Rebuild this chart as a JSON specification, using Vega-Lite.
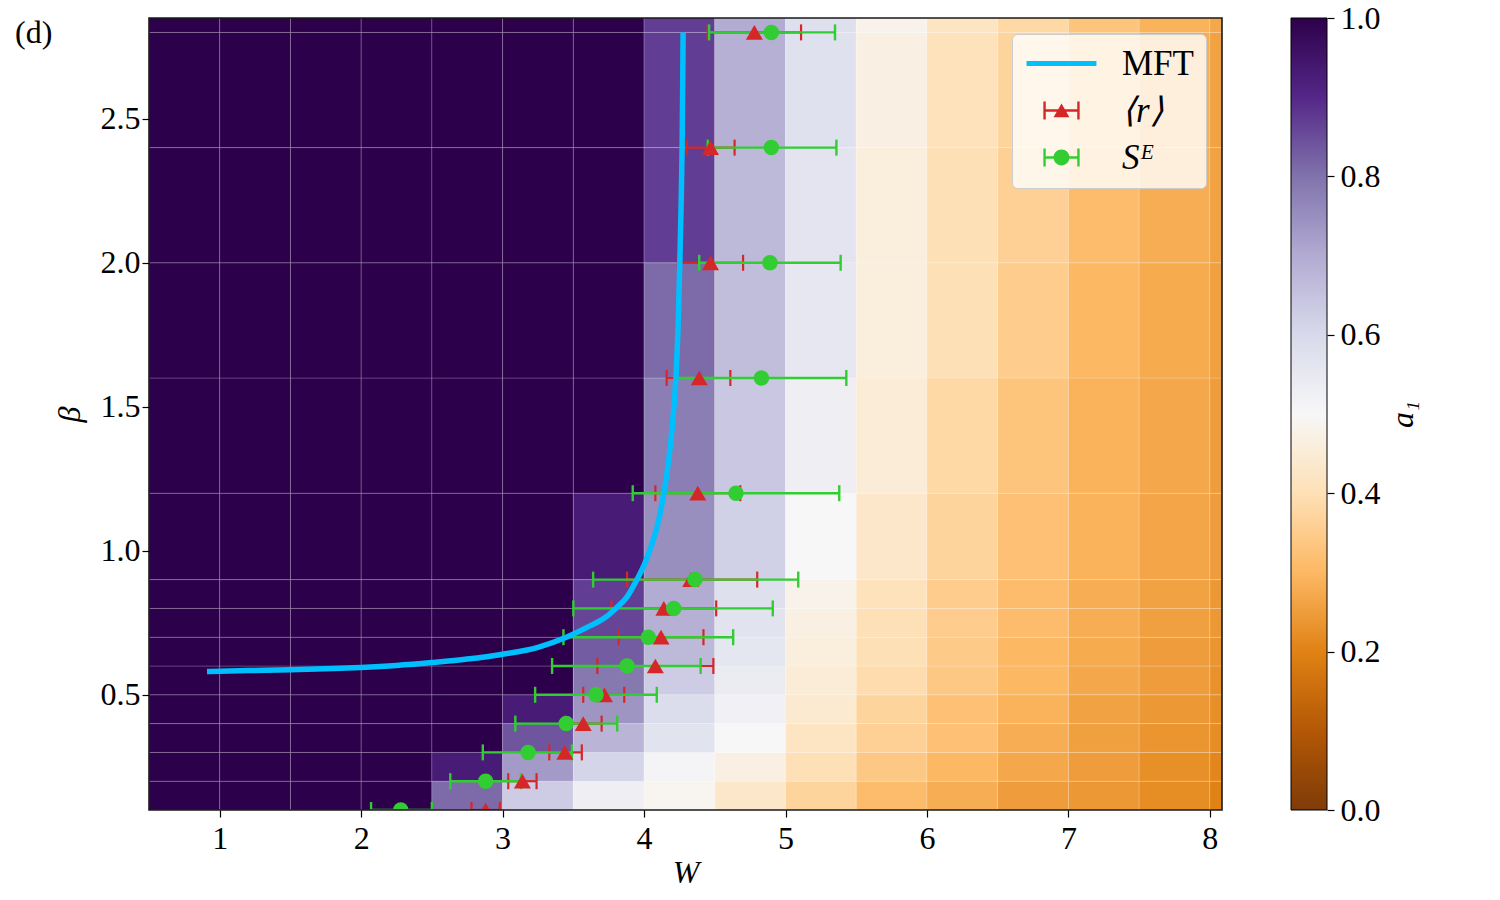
{
"$schema": "https://vega.github.io/schema/vega-lite/v6.json",
"autosize": {"type": "pad"},
"padding": {"left": 15, "top": 2, "right": 10, "bottom": 5},
"background": "white",
"config": {
  "font": "Liberation Serif",
  "view": {"stroke": null},
  "axis": {"labelFont": "Liberation Serif", "titleFont": "Liberation Serif", "labelFontSize": 32, "titleFontSize": 32, "labelColor": "black", "titleColor": "black", "tickColor": "black", "tickSize": 7, "tickWidth": 1.2, "domain": false, "grid": false, "titleFontWeight": "normal"},
  "title": {"font": "Liberation Serif", "fontSize": 32, "fontWeight": "normal", "color": "black"}
},
"resolve": {"scale": {"fill": "independent", "shape": "independent", "color": "independent"}, "legend": {"fill": "independent", "shape": "independent", "color": "independent"}},
"datasets": {
  "cells": [
{"W":0.5,"W2":1,"b":0.1,"b2":0.2,"a1":1},{"W":0.5,"W2":1,"b":0.2,"b2":0.3,"a1":1},{"W":0.5,"W2":1,"b":0.3,"b2":0.4,"a1":1},{"W":0.5,"W2":1,"b":0.4,"b2":0.5,"a1":1},{"W":0.5,"W2":1,"b":0.5,"b2":0.6,"a1":1},{"W":0.5,"W2":1,"b":0.6,"b2":0.7,"a1":1},{"W":0.5,"W2":1,"b":0.7,"b2":0.8,"a1":1},{"W":0.5,"W2":1,"b":0.8,"b2":0.9,"a1":1},{"W":0.5,"W2":1,"b":0.9,"b2":1.2,"a1":1},{"W":0.5,"W2":1,"b":1.2,"b2":1.6,"a1":1},{"W":0.5,"W2":1,"b":1.6,"b2":2.0,"a1":1},{"W":0.5,"W2":1,"b":2.0,"b2":2.4,"a1":1},{"W":0.5,"W2":1,"b":2.4,"b2":2.8,"a1":1},{"W":0.5,"W2":1,"b":2.8,"b2":3.2,"a1":1},
{"W":1,"W2":1.5,"b":0.1,"b2":0.2,"a1":1},{"W":1,"W2":1.5,"b":0.2,"b2":0.3,"a1":1},{"W":1,"W2":1.5,"b":0.3,"b2":0.4,"a1":1},{"W":1,"W2":1.5,"b":0.4,"b2":0.5,"a1":1},{"W":1,"W2":1.5,"b":0.5,"b2":0.6,"a1":1},{"W":1,"W2":1.5,"b":0.6,"b2":0.7,"a1":1},{"W":1,"W2":1.5,"b":0.7,"b2":0.8,"a1":1},{"W":1,"W2":1.5,"b":0.8,"b2":0.9,"a1":1},{"W":1,"W2":1.5,"b":0.9,"b2":1.2,"a1":1},{"W":1,"W2":1.5,"b":1.2,"b2":1.6,"a1":1},{"W":1,"W2":1.5,"b":1.6,"b2":2.0,"a1":1},{"W":1,"W2":1.5,"b":2.0,"b2":2.4,"a1":1},{"W":1,"W2":1.5,"b":2.4,"b2":2.8,"a1":1},{"W":1,"W2":1.5,"b":2.8,"b2":3.2,"a1":1},
{"W":1.5,"W2":2,"b":0.1,"b2":0.2,"a1":1},{"W":1.5,"W2":2,"b":0.2,"b2":0.3,"a1":1},{"W":1.5,"W2":2,"b":0.3,"b2":0.4,"a1":1},{"W":1.5,"W2":2,"b":0.4,"b2":0.5,"a1":1},{"W":1.5,"W2":2,"b":0.5,"b2":0.6,"a1":1},{"W":1.5,"W2":2,"b":0.6,"b2":0.7,"a1":1},{"W":1.5,"W2":2,"b":0.7,"b2":0.8,"a1":1},{"W":1.5,"W2":2,"b":0.8,"b2":0.9,"a1":1},{"W":1.5,"W2":2,"b":0.9,"b2":1.2,"a1":1},{"W":1.5,"W2":2,"b":1.2,"b2":1.6,"a1":1},{"W":1.5,"W2":2,"b":1.6,"b2":2.0,"a1":1},{"W":1.5,"W2":2,"b":2.0,"b2":2.4,"a1":1},{"W":1.5,"W2":2,"b":2.4,"b2":2.8,"a1":1},{"W":1.5,"W2":2,"b":2.8,"b2":3.2,"a1":1},
{"W":2,"W2":2.5,"b":0.1,"b2":0.2,"a1":1},{"W":2,"W2":2.5,"b":0.2,"b2":0.3,"a1":1},{"W":2,"W2":2.5,"b":0.3,"b2":0.4,"a1":1},{"W":2,"W2":2.5,"b":0.4,"b2":0.5,"a1":1},{"W":2,"W2":2.5,"b":0.5,"b2":0.6,"a1":1},{"W":2,"W2":2.5,"b":0.6,"b2":0.7,"a1":1},{"W":2,"W2":2.5,"b":0.7,"b2":0.8,"a1":1},{"W":2,"W2":2.5,"b":0.8,"b2":0.9,"a1":1},{"W":2,"W2":2.5,"b":0.9,"b2":1.2,"a1":1},{"W":2,"W2":2.5,"b":1.2,"b2":1.6,"a1":1},{"W":2,"W2":2.5,"b":1.6,"b2":2.0,"a1":1},{"W":2,"W2":2.5,"b":2.0,"b2":2.4,"a1":1},{"W":2,"W2":2.5,"b":2.4,"b2":2.8,"a1":1},{"W":2,"W2":2.5,"b":2.8,"b2":3.2,"a1":1},
{"W":2.5,"W2":3,"b":0.1,"b2":0.2,"a1":0.81},{"W":2.5,"W2":3,"b":0.2,"b2":0.3,"a1":0.93},{"W":2.5,"W2":3,"b":0.3,"b2":0.4,"a1":1},{"W":2.5,"W2":3,"b":0.4,"b2":0.5,"a1":1},{"W":2.5,"W2":3,"b":0.5,"b2":0.6,"a1":1},{"W":2.5,"W2":3,"b":0.6,"b2":0.7,"a1":1},{"W":2.5,"W2":3,"b":0.7,"b2":0.8,"a1":1},{"W":2.5,"W2":3,"b":0.8,"b2":0.9,"a1":1},{"W":2.5,"W2":3,"b":0.9,"b2":1.2,"a1":1},{"W":2.5,"W2":3,"b":1.2,"b2":1.6,"a1":1},{"W":2.5,"W2":3,"b":1.6,"b2":2.0,"a1":1},{"W":2.5,"W2":3,"b":2.0,"b2":2.4,"a1":1},{"W":2.5,"W2":3,"b":2.4,"b2":2.8,"a1":1},{"W":2.5,"W2":3,"b":2.8,"b2":3.2,"a1":1},
{"W":3,"W2":3.5,"b":0.1,"b2":0.2,"a1":0.63},{"W":3,"W2":3.5,"b":0.2,"b2":0.3,"a1":0.73},{"W":3,"W2":3.5,"b":0.3,"b2":0.4,"a1":0.84},{"W":3,"W2":3.5,"b":0.4,"b2":0.5,"a1":0.93},{"W":3,"W2":3.5,"b":0.5,"b2":0.6,"a1":1},{"W":3,"W2":3.5,"b":0.6,"b2":0.7,"a1":1},{"W":3,"W2":3.5,"b":0.7,"b2":0.8,"a1":1},{"W":3,"W2":3.5,"b":0.8,"b2":0.9,"a1":1},{"W":3,"W2":3.5,"b":0.9,"b2":1.2,"a1":1},{"W":3,"W2":3.5,"b":1.2,"b2":1.6,"a1":1},{"W":3,"W2":3.5,"b":1.6,"b2":2.0,"a1":1},{"W":3,"W2":3.5,"b":2.0,"b2":2.4,"a1":1},{"W":3,"W2":3.5,"b":2.4,"b2":2.8,"a1":1},{"W":3,"W2":3.5,"b":2.8,"b2":3.2,"a1":1},
{"W":3.5,"W2":4,"b":0.1,"b2":0.2,"a1":0.53},{"W":3.5,"W2":4,"b":0.2,"b2":0.3,"a1":0.61},{"W":3.5,"W2":4,"b":0.3,"b2":0.4,"a1":0.68},{"W":3.5,"W2":4,"b":0.4,"b2":0.5,"a1":0.74},{"W":3.5,"W2":4,"b":0.5,"b2":0.6,"a1":0.79},{"W":3.5,"W2":4,"b":0.6,"b2":0.7,"a1":0.83},{"W":3.5,"W2":4,"b":0.7,"b2":0.8,"a1":0.86},{"W":3.5,"W2":4,"b":0.8,"b2":0.9,"a1":0.87},{"W":3.5,"W2":4,"b":0.9,"b2":1.2,"a1":0.93},{"W":3.5,"W2":4,"b":1.2,"b2":1.6,"a1":1},{"W":3.5,"W2":4,"b":1.6,"b2":2.0,"a1":1},{"W":3.5,"W2":4,"b":2.0,"b2":2.4,"a1":1},{"W":3.5,"W2":4,"b":2.4,"b2":2.8,"a1":1},{"W":3.5,"W2":4,"b":2.8,"b2":3.2,"a1":1},
{"W":4,"W2":4.5,"b":0.1,"b2":0.2,"a1":0.49},{"W":4,"W2":4.5,"b":0.2,"b2":0.3,"a1":0.51},{"W":4,"W2":4.5,"b":0.3,"b2":0.4,"a1":0.57},{"W":4,"W2":4.5,"b":0.4,"b2":0.5,"a1":0.59},{"W":4,"W2":4.5,"b":0.5,"b2":0.6,"a1":0.63},{"W":4,"W2":4.5,"b":0.6,"b2":0.7,"a1":0.67},{"W":4,"W2":4.5,"b":0.7,"b2":0.8,"a1":0.69},{"W":4,"W2":4.5,"b":0.8,"b2":0.9,"a1":0.7},{"W":4,"W2":4.5,"b":0.9,"b2":1.2,"a1":0.75},{"W":4,"W2":4.5,"b":1.2,"b2":1.6,"a1":0.78},{"W":4,"W2":4.5,"b":1.6,"b2":2.0,"a1":0.81},{"W":4,"W2":4.5,"b":2.0,"b2":2.4,"a1":0.87},{"W":4,"W2":4.5,"b":2.4,"b2":2.8,"a1":0.87},{"W":4,"W2":4.5,"b":2.8,"b2":3.2,"a1":0.87},
{"W":4.5,"W2":5,"b":0.1,"b2":0.2,"a1":0.43},{"W":4.5,"W2":5,"b":0.2,"b2":0.3,"a1":0.47},{"W":4.5,"W2":5,"b":0.3,"b2":0.4,"a1":0.5},{"W":4.5,"W2":5,"b":0.4,"b2":0.5,"a1":0.52},{"W":4.5,"W2":5,"b":0.5,"b2":0.6,"a1":0.54},{"W":4.5,"W2":5,"b":0.6,"b2":0.7,"a1":0.56},{"W":4.5,"W2":5,"b":0.7,"b2":0.8,"a1":0.57},{"W":4.5,"W2":5,"b":0.8,"b2":0.9,"a1":0.58},{"W":4.5,"W2":5,"b":0.9,"b2":1.2,"a1":0.62},{"W":4.5,"W2":5,"b":1.2,"b2":1.6,"a1":0.64},{"W":4.5,"W2":5,"b":1.6,"b2":2.0,"a1":0.66},{"W":4.5,"W2":5,"b":2.0,"b2":2.4,"a1":0.67},{"W":4.5,"W2":5,"b":2.4,"b2":2.8,"a1":0.69},{"W":4.5,"W2":5,"b":2.8,"b2":3.2,"a1":0.7},
{"W":5,"W2":5.5,"b":0.1,"b2":0.2,"a1":0.37},{"W":5,"W2":5.5,"b":0.2,"b2":0.3,"a1":0.4},{"W":5,"W2":5.5,"b":0.3,"b2":0.4,"a1":0.42},{"W":5,"W2":5.5,"b":0.4,"b2":0.5,"a1":0.44},{"W":5,"W2":5.5,"b":0.5,"b2":0.6,"a1":0.45},{"W":5,"W2":5.5,"b":0.6,"b2":0.7,"a1":0.46},{"W":5,"W2":5.5,"b":0.7,"b2":0.8,"a1":0.47},{"W":5,"W2":5.5,"b":0.8,"b2":0.9,"a1":0.48},{"W":5,"W2":5.5,"b":0.9,"b2":1.2,"a1":0.5},{"W":5,"W2":5.5,"b":1.2,"b2":1.6,"a1":0.53},{"W":5,"W2":5.5,"b":1.6,"b2":2.0,"a1":0.555},{"W":5,"W2":5.5,"b":2.0,"b2":2.4,"a1":0.565},{"W":5,"W2":5.5,"b":2.4,"b2":2.8,"a1":0.575},{"W":5,"W2":5.5,"b":2.8,"b2":3.2,"a1":0.58},
{"W":5.5,"W2":6,"b":0.1,"b2":0.2,"a1":0.31},{"W":5.5,"W2":6,"b":0.2,"b2":0.3,"a1":0.34},{"W":5.5,"W2":6,"b":0.3,"b2":0.4,"a1":0.36},{"W":5.5,"W2":6,"b":0.4,"b2":0.5,"a1":0.37},{"W":5.5,"W2":6,"b":0.5,"b2":0.6,"a1":0.39},{"W":5.5,"W2":6,"b":0.6,"b2":0.7,"a1":0.4},{"W":5.5,"W2":6,"b":0.7,"b2":0.8,"a1":0.4},{"W":5.5,"W2":6,"b":0.8,"b2":0.9,"a1":0.41},{"W":5.5,"W2":6,"b":0.9,"b2":1.2,"a1":0.43},{"W":5.5,"W2":6,"b":1.2,"b2":1.6,"a1":0.45},{"W":5.5,"W2":6,"b":1.6,"b2":2.0,"a1":0.46},{"W":5.5,"W2":6,"b":2.0,"b2":2.4,"a1":0.46},{"W":5.5,"W2":6,"b":2.4,"b2":2.8,"a1":0.47},{"W":5.5,"W2":6,"b":2.8,"b2":3.2,"a1":0.48},
{"W":6,"W2":6.5,"b":0.1,"b2":0.2,"a1":0.28},{"W":6,"W2":6.5,"b":0.2,"b2":0.3,"a1":0.3},{"W":6,"W2":6.5,"b":0.3,"b2":0.4,"a1":0.32},{"W":6,"W2":6.5,"b":0.4,"b2":0.5,"a1":0.32},{"W":6,"W2":6.5,"b":0.5,"b2":0.6,"a1":0.34},{"W":6,"W2":6.5,"b":0.6,"b2":0.7,"a1":0.345},{"W":6,"W2":6.5,"b":0.7,"b2":0.8,"a1":0.35},{"W":6,"W2":6.5,"b":0.8,"b2":0.9,"a1":0.35},{"W":6,"W2":6.5,"b":0.9,"b2":1.2,"a1":0.37},{"W":6,"W2":6.5,"b":1.2,"b2":1.6,"a1":0.38},{"W":6,"W2":6.5,"b":1.6,"b2":2.0,"a1":0.4},{"W":6,"W2":6.5,"b":2.0,"b2":2.4,"a1":0.4},{"W":6,"W2":6.5,"b":2.4,"b2":2.8,"a1":0.41},{"W":6,"W2":6.5,"b":2.8,"b2":3.2,"a1":0.42},
{"W":6.5,"W2":7,"b":0.1,"b2":0.2,"a1":0.25},{"W":6.5,"W2":7,"b":0.2,"b2":0.3,"a1":0.27},{"W":6.5,"W2":7,"b":0.3,"b2":0.4,"a1":0.28},{"W":6.5,"W2":7,"b":0.4,"b2":0.5,"a1":0.29},{"W":6.5,"W2":7,"b":0.5,"b2":0.6,"a1":0.3},{"W":6.5,"W2":7,"b":0.6,"b2":0.7,"a1":0.3},{"W":6.5,"W2":7,"b":0.7,"b2":0.8,"a1":0.31},{"W":6.5,"W2":7,"b":0.8,"b2":0.9,"a1":0.31},{"W":6.5,"W2":7,"b":0.9,"b2":1.2,"a1":0.32},{"W":6.5,"W2":7,"b":1.2,"b2":1.6,"a1":0.33},{"W":6.5,"W2":7,"b":1.6,"b2":2.0,"a1":0.35},{"W":6.5,"W2":7,"b":2.0,"b2":2.4,"a1":0.36},{"W":6.5,"W2":7,"b":2.4,"b2":2.8,"a1":0.37},{"W":6.5,"W2":7,"b":2.8,"b2":3.2,"a1":0.38},
{"W":7,"W2":7.5,"b":0.1,"b2":0.2,"a1":0.24},{"W":7,"W2":7.5,"b":0.2,"b2":0.3,"a1":0.25},{"W":7,"W2":7.5,"b":0.3,"b2":0.4,"a1":0.255},{"W":7,"W2":7.5,"b":0.4,"b2":0.5,"a1":0.26},{"W":7,"W2":7.5,"b":0.5,"b2":0.6,"a1":0.27},{"W":7,"W2":7.5,"b":0.6,"b2":0.7,"a1":0.275},{"W":7,"W2":7.5,"b":0.7,"b2":0.8,"a1":0.28},{"W":7,"W2":7.5,"b":0.8,"b2":0.9,"a1":0.28},{"W":7,"W2":7.5,"b":0.9,"b2":1.2,"a1":0.29},{"W":7,"W2":7.5,"b":1.2,"b2":1.6,"a1":0.29},{"W":7,"W2":7.5,"b":1.6,"b2":2.0,"a1":0.3},{"W":7,"W2":7.5,"b":2.0,"b2":2.4,"a1":0.31},{"W":7,"W2":7.5,"b":2.4,"b2":2.8,"a1":0.32},{"W":7,"W2":7.5,"b":2.8,"b2":3.2,"a1":0.33},
{"W":7.5,"W2":8,"b":0.1,"b2":0.2,"a1":0.22},{"W":7.5,"W2":8,"b":0.2,"b2":0.3,"a1":0.225},{"W":7.5,"W2":8,"b":0.3,"b2":0.4,"a1":0.235},{"W":7.5,"W2":8,"b":0.4,"b2":0.5,"a1":0.24},{"W":7.5,"W2":8,"b":0.5,"b2":0.6,"a1":0.25},{"W":7.5,"W2":8,"b":0.6,"b2":0.7,"a1":0.25},{"W":7.5,"W2":8,"b":0.7,"b2":0.8,"a1":0.255},{"W":7.5,"W2":8,"b":0.8,"b2":0.9,"a1":0.26},{"W":7.5,"W2":8,"b":0.9,"b2":1.2,"a1":0.265},{"W":7.5,"W2":8,"b":1.2,"b2":1.6,"a1":0.27},{"W":7.5,"W2":8,"b":1.6,"b2":2.0,"a1":0.275},{"W":7.5,"W2":8,"b":2.0,"b2":2.4,"a1":0.28},{"W":7.5,"W2":8,"b":2.4,"b2":2.8,"a1":0.28},{"W":7.5,"W2":8,"b":2.8,"b2":3.2,"a1":0.29},
{"W":8,"W2":8.5,"b":0.1,"b2":0.2,"a1":0.2},{"W":8,"W2":8.5,"b":0.2,"b2":0.3,"a1":0.21},{"W":8,"W2":8.5,"b":0.3,"b2":0.4,"a1":0.22},{"W":8,"W2":8.5,"b":0.4,"b2":0.5,"a1":0.225},{"W":8,"W2":8.5,"b":0.5,"b2":0.6,"a1":0.23},{"W":8,"W2":8.5,"b":0.6,"b2":0.7,"a1":0.235},{"W":8,"W2":8.5,"b":0.7,"b2":0.8,"a1":0.24},{"W":8,"W2":8.5,"b":0.8,"b2":0.9,"a1":0.24},{"W":8,"W2":8.5,"b":0.9,"b2":1.2,"a1":0.25},{"W":8,"W2":8.5,"b":1.2,"b2":1.6,"a1":0.25},{"W":8,"W2":8.5,"b":1.6,"b2":2.0,"a1":0.255},{"W":8,"W2":8.5,"b":2.0,"b2":2.4,"a1":0.26},{"W":8,"W2":8.5,"b":2.4,"b2":2.8,"a1":0.26},{"W":8,"W2":8.5,"b":2.8,"b2":3.2,"a1":0.27}
  ],
  "mft": [
{"W":0.91,"b":0.581},{"W":1.2,"b":0.584},{"W":1.5,"b":0.587},{"W":1.8,"b":0.591},{"W":2.0,"b":0.595},{"W":2.25,"b":0.602},{"W":2.5,"b":0.612},{"W":2.75,"b":0.624},{"W":3.0,"b":0.641},{"W":3.25,"b":0.665},{"W":3.45,"b":0.7},{"W":3.6,"b":0.735},{"W":3.73,"b":0.77},{"W":3.8,"b":0.8},{"W":3.88,"b":0.84},{"W":3.95,"b":0.9},{"W":4.0,"b":0.95},{"W":4.05,"b":1.015},{"W":4.1,"b":1.1},{"W":4.14,"b":1.2},{"W":4.17,"b":1.3},{"W":4.195,"b":1.41},{"W":4.225,"b":1.6},{"W":4.242,"b":1.8},{"W":4.253,"b":2.0},{"W":4.262,"b":2.2},{"W":4.269,"b":2.4},{"W":4.273,"b":2.6},{"W":4.276,"b":2.8}
  ],
  "pts": [
{"s":"r","b":0.1,"W":2.88,"lo":2.78,"hi":2.98},{"s":"r","b":0.2,"W":3.14,"lo":3.04,"hi":3.24},{"s":"r","b":0.3,"W":3.44,"lo":3.33,"hi":3.56},{"s":"r","b":0.4,"W":3.57,"lo":3.44,"hi":3.7},{"s":"r","b":0.5,"W":3.72,"lo":3.57,"hi":3.86},{"s":"r","b":0.6,"W":4.08,"lo":3.67,"hi":4.49},{"s":"r","b":0.7,"W":4.12,"lo":3.82,"hi":4.42},{"s":"r","b":0.8,"W":4.14,"lo":3.77,"hi":4.51},{"s":"r","b":0.9,"W":4.33,"lo":3.88,"hi":4.8},{"s":"r","b":1.2,"W":4.38,"lo":4.08,"hi":4.68},{"s":"r","b":1.6,"W":4.39,"lo":4.16,"hi":4.61},{"s":"r","b":2.0,"W":4.47,"lo":4.24,"hi":4.7},{"s":"r","b":2.4,"W":4.47,"lo":4.3,"hi":4.64},{"s":"r","b":2.8,"W":4.78,"lo":4.45,"hi":5.11},
{"s":"S","b":0.1,"W":2.28,"lo":2.07,"hi":2.5},{"s":"S","b":0.2,"W":2.88,"lo":2.63,"hi":3.13},{"s":"S","b":0.3,"W":3.18,"lo":2.86,"hi":3.49},{"s":"S","b":0.4,"W":3.45,"lo":3.09,"hi":3.81},{"s":"S","b":0.5,"W":3.66,"lo":3.23,"hi":4.09},{"s":"S","b":0.6,"W":3.88,"lo":3.35,"hi":4.4},{"s":"S","b":0.7,"W":4.03,"lo":3.43,"hi":4.63},{"s":"S","b":0.8,"W":4.21,"lo":3.5,"hi":4.91},{"s":"S","b":0.9,"W":4.36,"lo":3.64,"hi":5.09},{"s":"S","b":1.2,"W":4.65,"lo":3.92,"hi":5.38},{"s":"S","b":1.6,"W":4.83,"lo":4.23,"hi":5.43},{"s":"S","b":2.0,"W":4.89,"lo":4.39,"hi":5.39},{"s":"S","b":2.4,"W":4.9,"lo":4.45,"hi":5.36},{"s":"S","b":2.8,"W":4.9,"lo":4.46,"hi":5.35}
  ],
  "leg": [{"series":"MFT"},{"series":"⟨r⟩"},{"series":"Sᴱ"}]
},
"spacing": 69,
"bounds": "flush",
"hconcat": [
{
  "width": 1073,
  "height": 792,
  "title": {"text": "(d)", "anchor": "start", "frame": "group", "orient": "top", "offset": 0, "dx": -134, "dy": 58, "baseline": "alphabetic"},
  "layer": [
    {
      "data": {"name": "cells"},
      "mark": {"type": "rect", "clip": true, "stroke": "white", "strokeOpacity": 0.18, "strokeWidth": 1},
      "encoding": {
        "x": {"field": "W", "type": "quantitative", "title": "W", "scale": {"domain": [0.5, 8.086], "nice": false, "zero": false},
              "axis": {"values": [1,2,3,4,5,6,7,8], "format": "d", "labelPadding": 6, "titlePadding": 3, "titleFontStyle": "italic", "zindex": 1, "labelFlush": false}},
        "x2": {"field": "W2"},
        "y": {"field": "b", "type": "quantitative", "title": "β", "scale": {"domain": [0.1, 2.85], "nice": false, "zero": false},
              "axis": {"values": [0.5,1,1.5,2,2.5], "format": ".1f", "labelPadding": 2, "titlePadding": 14, "titleFontStyle": "italic", "zindex": 1, "labelFlush": false}},
        "y2": {"field": "b2"},
        "color": {"field": "a1", "type": "quantitative", "legend": null,
                  "scale": {"type": "linear", "domain": [0,0.1,0.2,0.3,0.4,0.5,0.6,0.7,0.8,0.9,1], "range": ["#7f3b08","#b35806","#e08214","#fdb863","#fee0b6","#f7f7f7","#d8daeb","#b2abd2","#8073ac","#542788","#2d004b"], "interpolate": "rgb"}}
      }
    },
    {
      "data": {"name": "pts"},
      "transform": [{"filter": "datum.s === 'r'"}],
      "mark": {"type": "rule", "clip": true, "color": "#d62728", "strokeWidth": 2.2},
      "encoding": {"x": {"field": "lo", "type": "quantitative", "title": "W"}, "x2": {"field": "hi"}, "y": {"field": "b", "type": "quantitative", "title": "β"}}
    },
    {
      "data": {"name": "pts"},
      "transform": [{"filter": "datum.s === 'r'"}, {"fold": ["lo", "hi"], "as": ["k", "v"]}],
      "mark": {"type": "point", "clip": true, "shape": "M0,-1L0,1", "filled": false, "color": "#d62728", "strokeWidth": 2.2, "size": 256, "opacity": 1},
      "encoding": {"x": {"field": "v", "type": "quantitative", "title": "W"}, "y": {"field": "b", "type": "quantitative", "title": "β"}}
    },
    {
      "data": {"name": "pts"},
      "transform": [{"filter": "datum.s === 'S'"}],
      "mark": {"type": "rule", "clip": true, "color": "#32cd32", "strokeWidth": 2.4},
      "encoding": {"x": {"field": "lo", "type": "quantitative", "title": "W"}, "x2": {"field": "hi"}, "y": {"field": "b", "type": "quantitative", "title": "β"}}
    },
    {
      "data": {"name": "pts"},
      "transform": [{"filter": "datum.s === 'S'"}, {"fold": ["lo", "hi"], "as": ["k", "v"]}],
      "mark": {"type": "point", "clip": true, "shape": "M0,-1L0,1", "filled": false, "color": "#32cd32", "strokeWidth": 2.4, "size": 256, "opacity": 1},
      "encoding": {"x": {"field": "v", "type": "quantitative", "title": "W"}, "y": {"field": "b", "type": "quantitative", "title": "β"}}
    },
    {
      "data": {"name": "mft"},
      "mark": {"type": "line", "clip": true, "color": "#00bfff", "strokeWidth": 5.5, "interpolate": "monotone"},
      "encoding": {"x": {"field": "W", "type": "quantitative", "title": "W"}, "y": {"field": "b", "type": "quantitative", "title": "β"}}
    },
    {
      "data": {"name": "pts"},
      "transform": [{"filter": "datum.s === 'r'"}],
      "mark": {"type": "point", "clip": true, "shape": "triangle-up", "filled": true, "color": "#d62728", "size": 289, "opacity": 1, "strokeWidth": 0},
      "encoding": {"x": {"field": "W", "type": "quantitative", "title": "W"}, "y": {"field": "b", "type": "quantitative", "title": "β"}}
    },
    {
      "data": {"name": "pts"},
      "transform": [{"filter": "datum.s === 'S'"}],
      "mark": {"type": "point", "clip": true, "shape": "circle", "filled": true, "color": "#32cd32", "size": 240, "opacity": 1, "strokeWidth": 0},
      "encoding": {"x": {"field": "W", "type": "quantitative", "title": "W"}, "y": {"field": "b", "type": "quantitative", "title": "β"}}
    },
    {
      "data": {"name": "leg"},
      "transform": [{"filter": "false"}],
      "mark": {"type": "point", "filled": true, "opacity": 1, "size": 900, "strokeWidth": 0},
      "encoding": {
        "fill": {"field": "series", "type": "nominal",
                 "scale": {"domain": ["MFT", "⟨r⟩", "Sᴱ"], "range": ["#00bfff", "#d62728", "#32cd32"]},
                 "legend": {"title": null, "orient": "top-right", "offset": 16, "padding": 12, "rowPadding": 11, "symbolSize": 900, "symbolOffset": 20, "labelOffset": 43, "labelFontSize": 35, "labelFont": "Liberation Serif", "labelColor": "black", "labelBaseline": "middle", "fillColor": "rgba(255,255,255,0.8)", "strokeColor": "#cccccc", "cornerRadius": 5, "symbolStrokeWidth": 0, "symbolOpacity": 1,
                            "labelFontStyle": {"expr": "datum.value === 'MFT' ? 'normal' : 'italic'"}}},
        "shape": {"field": "series", "type": "nominal",
                  "scale": {"domain": ["MFT", "⟨r⟩", "Sᴱ"], "range": [
                    "M-2.33,-0.17H2.33V0.17H-2.33Z",
                    "M-1.21,-0.6H-1.05V0.6H-1.21Z M1.05,-0.6H1.21V0.6H1.05Z M-1.13,-0.08H1.13V0.08H-1.13Z M0,-0.47L0.53,0.45L-0.53,0.45Z",
                    "M-1.21,-0.6H-1.05V0.6H-1.21Z M1.05,-0.6H1.21V0.6H1.05Z M-1.13,-0.08H1.13V0.08H-1.13Z M0.53,0A0.53,0.53,0,1,1,-0.53,0A0.53,0.53,0,1,1,0.53,0Z"]},
                  "legend": {"title": null, "orient": "top-right", "offset": 16, "padding": 12, "rowPadding": 11, "symbolSize": 900, "symbolOffset": 20, "labelOffset": 43, "labelFontSize": 35, "labelFont": "Liberation Serif", "labelColor": "black", "labelBaseline": "middle", "fillColor": "rgba(255,255,255,0.8)", "strokeColor": "#cccccc", "cornerRadius": 5, "symbolStrokeWidth": 0, "symbolOpacity": 1,
                             "labelFontStyle": {"expr": "datum.value === 'MFT' ? 'normal' : 'italic'"}}}
      }
    },
    {
      "data": {"values": [{}]},
      "mark": {"type": "rect", "fill": "transparent", "stroke": "#1a1a1a", "strokeWidth": 1.6},
      "encoding": {"x": {"datum": 0.5, "type": "quantitative"}, "x2": {"datum": 8.086}, "y": {"datum": 0.1, "type": "quantitative"}, "y2": {"datum": 2.85}}
    }
  ]
},
{
  "width": 36,
  "height": 792,
  "data": {"values": [{}]},
  "mark": {"type": "rect", "stroke": "black", "strokeWidth": 1,
           "fill": {"gradient": "linear", "x1": 0, "y1": 1, "x2": 0, "y2": 0, "stops": [
             {"offset": 0, "color": "#7f3b08"}, {"offset": 0.1, "color": "#b35806"}, {"offset": 0.2, "color": "#e08214"}, {"offset": 0.3, "color": "#fdb863"}, {"offset": 0.4, "color": "#fee0b6"}, {"offset": 0.5, "color": "#f7f7f7"}, {"offset": 0.6, "color": "#d8daeb"}, {"offset": 0.7, "color": "#b2abd2"}, {"offset": 0.8, "color": "#8073ac"}, {"offset": 0.9, "color": "#542788"}, {"offset": 1, "color": "#2d004b"}]}},
  "encoding": {
    "y": {"datum": 0, "type": "quantitative", "scale": {"domain": [0, 1], "nice": false, "zero": false},
          "axis": {"orient": "right", "values": [0, 0.2, 0.4, 0.6, 0.8, 1], "format": ".1f", "title": "a₁", "titleAngle": 270, "titleBaseline": "top", "titleFontStyle": "italic", "labelPadding": 6, "titlePadding": 7, "labelFlush": false, "labelOverlap": false, "zindex": 1}},
    "y2": {"datum": 1}
  }
}
]
}
